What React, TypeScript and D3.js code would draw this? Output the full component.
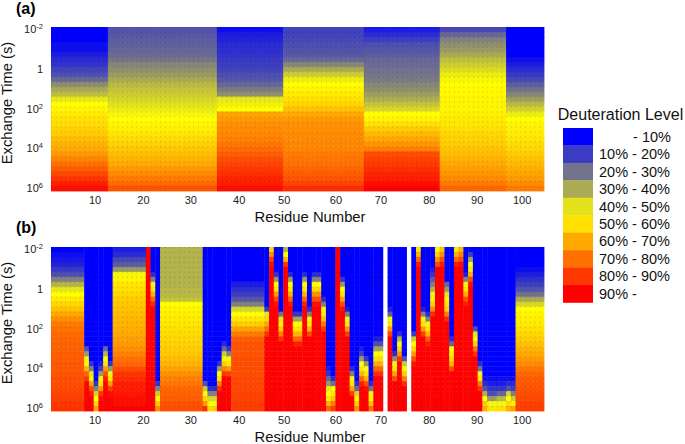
import React from "react";
import * as d3 from "d3";

// Time rows: 33 rows, k = 0 .. 32, 4 rows per decade from 10^-2 to 10^6
const rowCount = 33;
const residueCount = 104;

// ---------- Panel (a): one level per time row for each peptide segment ----------
const segmentFirstA = [1, 13, 36, 50, 67, 83, 97];
const segmentLastA = [12, 35, 49, 66, 82, 96, 104];
const segA1 = [0,0,1,2,3,6,8,10,13,15,20,27,33,37,45,50,52,54,56,57,59,60,63,65,67,70,74,78,82,86,90,94,98];
const segA2 = [16,17,18,19,20,21,23,26,28,30,33,36,38,40,42,44,46,48,50,52,53,55,57,59,61,63,65,67,70,73,76,79,84];
const segA3 = [3,6,7,8,9,10,11,12,13,15,17,20,24,28,45,47,50,68,70,72,73,74,75,77,79,82,85,87,89,91,93,95,97];
const segA4 = [13,13,14,15,16,17,20,26,33,40,46,50,52,54,56,58,62,67,70,72,72,73,73,74,74,76,77,78,80,82,84,87,92];
const segA5 = [5,8,12,15,17,18,20,21,22,23,24,26,28,31,34,38,42,50,52,56,60,64,67,71,75,85,87,89,91,93,95,97,99];
const segA6 = [14,20,25,28,30,33,37,40,43,46,48,50,51,51,52,52,52,53,54,55,56,58,59,60,62,63,65,67,69,71,73,76,80];
const segA7 = [0,0,0,0,0,1,3,6,8,11,14,18,22,26,31,36,41,46,50,52,53,54,55,57,58,60,62,64,66,68,70,73,76];
const segmentLevelsA = [segA1, segA2, segA3, segA4, segA5, segA6, segA7];

// ---------- Panel (b): residue ranges, the row where the rise starts, and the rise ----------
// rows before the start stay at 0, rows after the listed levels keep the last level
const profile1 = [1,2,4,7,11,15,25,35,45,50,54,58,62,67,72,76,78,79,80,81,81,82,82,83,83,84,85,85,86,87,88,89,90];
const profile14 = [5,8,14,18,30,48,52,55,56,58,60,61,62,63,64,65,66,67,69,70,72,75,78,80,85,90,92,94,95,96,97,98,100];
const profile24 = [35,35,35,35,35,35,35,35,36,36,38,50,52,53,54,55,56,57,58,59,60,61,63,65,68,72,75,77,80,81,82,84,85];
const profile39 = [0,0,0,0,0,1,1,5,9,12,17,25,42,50,55,60,68,76,82,84,84,84,85,85,85,85,86,86,86,87,87,88,88];
const profile99 = [0,0,0,0,3,6,9,12,16,22,33,42,50,52,53,54,56,58,60,62,65,67,70,73,77,80,82,83,84,85,86,87,88];

const rangeFrom = [1,8,9,10,11,12,13,14,21,22,23,24,33,34,35,36,37,38,39,46,47,48,49,50,51,52,53,54,55,56,57,58,59,60,61,62,63,64,65,66,67,68,69,70,72,73,74,75,77,78,79,80,81,82,83,84,85,86,87,88,89,90,91,92,93,95,97,98,99];
const rangeTo = [7,8,9,10,11,12,13,20,21,22,23,32,33,34,35,36,37,38,45,46,47,48,49,50,51,52,53,54,55,56,57,58,59,60,61,62,63,64,65,66,67,68,69,70,72,73,74,75,77,78,79,80,81,82,83,84,85,86,87,88,89,90,91,92,94,96,97,98,104];
const riseStart = [0,20,23,27,23,20,23,0,0,5,27,0,27,28,28,23,19,20,0,12,0,5,13,0,5,13,13,5,12,5,5,10,24,26,0,6,12,24,27,20,22,27,18,18,12,21,17,22,17,0,12,13,4,0,0,7,18,0,0,5,1,16,23,26,26,26,26,26,0];
const riseLevels = [
  profile1,
  [15,30,48,52,65,80,90,100],
  [10,25,45,52,68,85,95,100],
  [10,25,42,50,58,68],
  [5,12,30,48,55,70,90,97,100],
  [20,35,50,55,70,85,95,100],
  [10,30,48,55,70,88,97,100],
  profile14,
  [100],
  [8,25,48,55,65,80,92,100],
  [10,25,40,52,60,72],
  profile24,
  [15,40,50,58,70,92],
  [8,25,42,50,58],
  [8,25,42,50,60],
  [10,30,50,55,75,92,100],
  [8,20,40,52,60,75,90,100],
  [10,25,48,55,70,88,100],
  profile39,
  [10,45,58,68,78,90,100],
  [58,72,88,97,100],
  [10,30,50,55,70,85,97,100],
  [22,45,52,60,75,90,100],
  [35,50,65,90,100],
  [8,30,50,55,65,80,95,100],
  [10,32,50,55,65,80,95,100],
  [10,32,50,55,65,80,95,100],
  [8,30,50,55,65,80,95,100],
  [8,25,48,55,65,85,100],
  [8,25,50,58,72,85,97,100],
  [8,25,50,58,72,85,97,100],
  [8,25,48,54,62,75,90,100],
  [5,10,20,30,45,50,55,65,80],
  [8,22,50,55,62,75,88],
  [100],
  [10,30,50,55,68,85,97,100],
  [5,25,48,55,70,88,100],
  [8,25,48,55,68,88,100],
  [8,20,42,52,60,72],
  [5,12,30,50,55,65,80,95,100],
  [10,30,50,55,65,85,97,100],
  [8,22,48,52,62,78],
  [6,15,32,50,56,66,80,92,100],
  [6,15,32,50,56,66,80,92,100],
  [5,18,48,55,70,88,100],
  [8,28,48,55,68,85,100],
  [10,35,50,58,72,90,100],
  [15,40,52,60,75,92,100],
  [12,40,50,58,70,85,97,100],
  [55,65,80,95,100],
  [5,25,48,55,70,88,100],
  [8,25,48,55,65,82,95,100],
  [5,10,18,25,35,48,52,58,72,92,100],
  [52,58,72,85,100],
  [62,72,85,95,100],
  [20,30,45,52,55,58,75,92,100],
  [8,20,50,52,58,65,85,100],
  [55,65,80,95,100],
  [65,75,85,97,100],
  [5,25,48,55,65,85,95,100],
  [12,32,50,54,65,85,97,100],
  [15,45,52,60,78,92,100],
  [8,22,48,55,75,90,100],
  [3,8,15,35,50,60,65],
  [3,5,10,15,30,48,55],
  [3,5,10,20,36,48,56],
  [3,8,15,42,50,58,65],
  [3,8,12,25,40,52,68],
  profile99,
];

// ---------- Axes and legend ----------
const residueTicks = [10, 20, 30, 40, 50, 60, 70, 80, 90, 100];
const residueTickNudge = [-0.2, 0, 0, 0.2, -0.3, 0.6, 0.1, 0.3, 0.4, -0.1];
const timeTickRows = [0, 8, 16, 24, 32];
const timeTickExponents = ["-2", "", "2", "4", "6"];
const legendTitle = "Deuteration Level";
const legendStops = [0, 11.5, 22.5, 33.5, 44.5, 56, 67, 78, 89, 100];
const legendLabels = ["- 10%", "10% - 20%", "20% - 30%", "30% - 40%", "40% - 50%", "50% - 60%", "60% - 70%", "70% - 80%", "80% - 90%", "90% -"];

const FONT = "'Liberation Sans', Arial, sans-serif";
const plotLeft = 51;
const plotRight = 544;
const color = d3.scaleLinear<string>().domain([0, 50, 100]).range(["#0000ff", "#ffff00", "#ff0000"]).clamp(true);
const x = d3.scaleLinear().domain([0.5, residueCount + 0.5]).range([plotLeft, plotRight]);
const rows = d3.range(rowCount);

type Column = { from: number; to: number; levels: number[] };

const columnsA: Column[] = segmentFirstA.map((from, i) => ({ from, to: segmentLastA[i], levels: segmentLevelsA[i] }));
const columnsB: Column[] = rangeFrom.map((from, i) => ({
  from,
  to: rangeTo[i],
  levels: rows.map((k) => {
    const run = riseLevels[i];
    if (k < riseStart[i]) return 0;
    return run[Math.min(k - riseStart[i], run.length - 1)];
  }),
}));

function Panel({ columns, top, letter, letterDy, id }: { columns: Column[]; top: number; letter: string; letterDy: number; id: string }) {
  const y = d3.scaleBand<number>().domain(rows).range([top, top + 164]);
  const axisTop = top + 164;
  const dx = x(2) - x(1);
  return (
    <g>
      <defs>
        <pattern id={id} patternUnits="userSpaceOnUse" x={plotLeft} y={top} width={dx} height={y.bandwidth()}>
          <rect x={0} y={0} width={1} height={1} fill="#000" fillOpacity={0.22} />
        </pattern>
      </defs>
      <text x={16} y={top - letterDy} fontSize={16} fontWeight="bold">{letter}</text>
      <g filter="url(#soft)">
        {columns.map((c) =>
          rows.map((k) => (
            <rect
              key={`${c.from}-${k}`}
              x={x(c.from - 0.5)}
              y={y(k)}
              width={x(c.to + 0.5) - x(c.from - 0.5) + 0.4}
              height={y.bandwidth() + 0.4}
              fill={color(c.levels[k])}
            />
          ))
        )}
        {columns.map((c) => (
          <rect
            key={`dots-${c.from}`}
            x={x(c.from - 0.5)}
            y={top}
            width={x(c.to + 0.5) - x(c.from - 0.5)}
            height={164}
            fill={`url(#${id})`}
          />
        ))}
      </g>
      {residueTicks.map((t, i) => (
        <text key={t} x={x(t + residueTickNudge[i])} y={axisTop + 13} fontSize={11} textAnchor="middle" fill="#222">{t}</text>
      ))}
      {timeTickRows.map((k, i) => {
        const cy = (y(k) as number) + y.bandwidth() / 2 + 3.5;
        const exp = timeTickExponents[i];
        return (
          <text key={k} x={43} y={cy} fontSize={11} textAnchor="end" fill="#222">
            {exp === "" ? "1" : "10"}
            {exp !== "" && <tspan dy={-4} fontSize={7.5}>{exp}</tspan>}
          </text>
        );
      })}
      <text x={310} y={axisTop + 31} fontSize={14.8} textAnchor="middle" fill="#111">Residue Number</text>
      <text transform={`translate(12,${top + 76}) rotate(-90)`} fontSize={14.7} textAnchor="middle" fill="#111">Exchange Time (s)</text>
    </g>
  );
}

export default function App() {
  const legendY = d3.scaleBand<number>().domain(d3.range(legendStops.length)).range([128, 302.5]);
  return (
    <svg width={685} height={444} style={{ position: "absolute", left: 0, top: 0, fontFamily: FONT }}>
      <defs>
        <filter id="soft" x="-2%" y="-2%" width="104%" height="104%">
          <feGaussianBlur stdDeviation="0.45" />
        </filter>
      </defs>
      <rect width={685} height={444} fill="#fff" />
      <Panel columns={columnsA} top={27} letter="(a)" letterDy={13} id="dotsA" />
      <Panel columns={columnsB} top={247} letter="(b)" letterDy={14} id="dotsB" />
      <text x={620.5} y={120} fontSize={16} textAnchor="middle" fill="#111">{legendTitle}</text>
      {legendStops.map((s, i) => (
        <g key={s}>
          <rect x={563} y={legendY(i)} width={30} height={legendY.bandwidth() + 0.3} fill={color(s)} />
          <text
            x={i === 0 ? 671 : 599}
            y={(legendY(i) as number) + legendY.bandwidth() / 2 + 5}
            fontSize={14.5}
            textAnchor={i === 0 ? "end" : "start"}
            fill="#111"
          >
            {legendLabels[i]}
          </text>
        </g>
      ))}
    </svg>
  );
}
